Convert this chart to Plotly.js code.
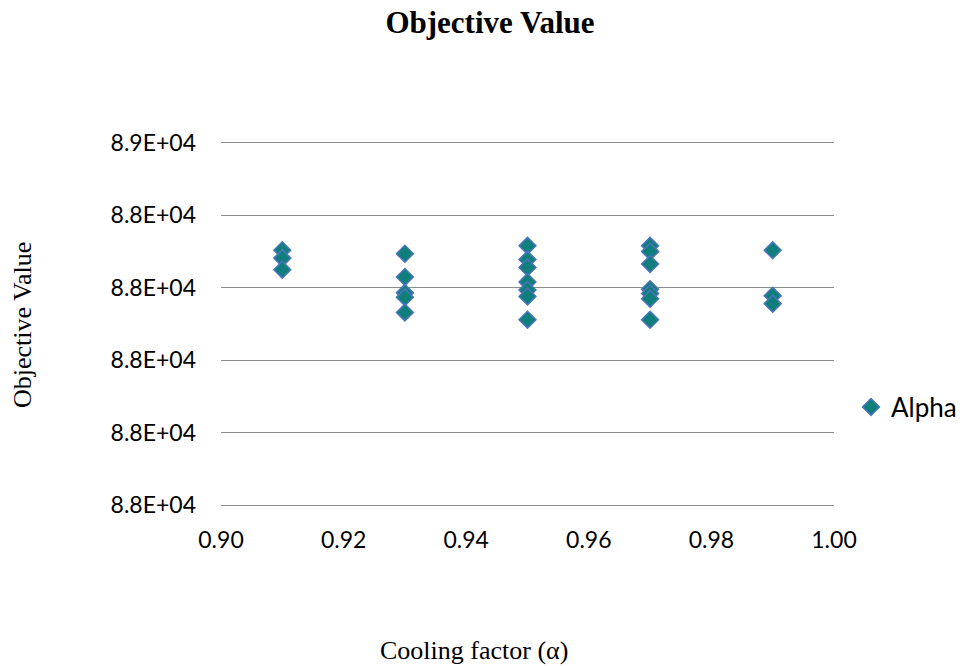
<!DOCTYPE html>
<html>
<head>
<meta charset="utf-8">
<script src="https://cdn.plot.ly/plotly-3.0.1.min.js"></script>
<style>
  html, body { margin: 0; padding: 0; background: #fff; }
  #chart { width: 962px; height: 666px; }
</style>
</head>
<body>
<div id="chart"></div>
<script>
// Cooling factor of each run and the objective value it reached
const coolingFactor = [
  0.91, 0.91, 0.91,
  0.93, 0.93, 0.93, 0.93, 0.93,
  0.95, 0.95, 0.95, 0.95, 0.95, 0.95, 0.95,
  0.97, 0.97, 0.97, 0.97, 0.97, 0.97, 0.97,
  0.99, 0.99, 0.99
];
const objectiveValue = [
  88352, 88341, 88325,
  88347, 88315, 88293, 88287, 88266,
  88358, 88339, 88328, 88308, 88297, 88288, 88256,
  88358, 88350, 88333, 88298, 88292, 88285, 88256,
  88352, 88289, 88278
];

// Axis ticks
const yTickValues = [88000, 88100, 88200, 88300, 88400, 88500];
const yTickLabels = ['8.8E+04', '8.8E+04', '8.8E+04', '8.8E+04', '8.8E+04', '8.9E+04'];
const xTickValues = [0.90, 0.92, 0.94, 0.96, 0.98, 1.00];
const xTickLabels = ['0.90', '0.92', '0.94', '0.96', '0.98', '1.00'];

const sansFont = 'Lato, Open Sans, sans-serif';
const serifFont = 'Liberation Serif, Times New Roman, serif';
const gridGray = '#8C8C8C';

const trace = {
  type: 'scatter',
  mode: 'markers',
  name: 'Alpha',
  x: coolingFactor,
  y: objectiveValue,
  marker: {
    symbol: 'diamond',
    size: 13,
    color: '#0F7F7B',
    line: { color: '#4A74BC', width: 1.5 }
  },
  hoverinfo: 'x+y'
};

const layout = {
  width: 962,
  height: 666,
  margin: { l: 221, r: 128, t: 143, b: 161, autoexpand: false },
  paper_bgcolor: '#ffffff',
  plot_bgcolor: '#ffffff',
  showlegend: true,
  title: {
    text: '<b>Objective Value</b>',
    font: { family: serifFont, size: 31, color: '#000000' },
    x: 490 / 962,
    xref: 'container',
    xanchor: 'center',
    y: 1 - 22 / 666,
    yref: 'container',
    yanchor: 'middle'
  },
  xaxis: {
    range: [0.90, 1.00],
    tickvals: xTickValues,
    ticktext: xTickLabels,
    showgrid: false,
    zeroline: false,
    showline: true,
    mirror: true,
    linecolor: gridGray,
    linewidth: 1,
    ticks: '',
    ticklabelstandoff: 14,
    tickfont: { family: sansFont, size: 23, color: '#000000' }
  },
  yaxis: {
    range: [88000, 88500],
    tickvals: yTickValues,
    ticktext: yTickLabels,
    showgrid: true,
    gridcolor: gridGray,
    gridwidth: 1,
    zeroline: false,
    showline: false,
    ticks: '',
    ticklabelstandoff: 24,
    tickfont: { family: sansFont, size: 23, color: '#000000' }
  },
  legend: {
    x: (851 - 221) / 613,
    xanchor: 'left',
    y: (505 - 407) / 362,
    yanchor: 'middle',
    font: { family: sansFont, size: 26, color: '#000000' },
    bgcolor: 'rgba(0,0,0,0)',
    borderwidth: 0,
    itemwidth: 30
  },
  annotations: [
    {
      text: 'Cooling factor (α)',
      xref: 'paper', yref: 'paper',
      x: (474 - 221) / 613,
      y: -(650 - 505) / 362,
      xanchor: 'center', yanchor: 'middle',
      showarrow: false,
      font: { family: serifFont, size: 26, color: '#000000' }
    },
    {
      text: 'Objective Value',
      xref: 'paper', yref: 'paper',
      x: (22 - 221) / 613,
      y: (505 - 325) / 362,
      xanchor: 'center', yanchor: 'middle',
      textangle: -90,
      showarrow: false,
      font: { family: serifFont, size: 26, color: '#000000' }
    }
  ]
};

Plotly.newPlot('chart', [trace], layout, { displayModeBar: false, staticPlot: true });
</script>
</body>
</html>
